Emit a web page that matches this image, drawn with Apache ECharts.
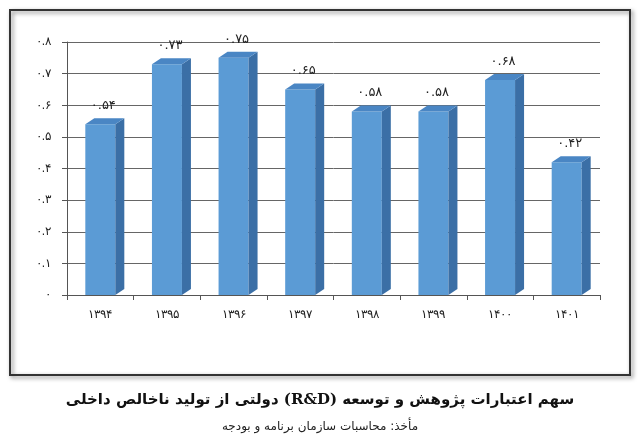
<!DOCTYPE html>
<html>
<head>
<meta charset="utf-8">
<script src="https://cdn.jsdelivr.net/npm/echarts@6/dist/echarts.min.js"></script>
<style>html,body{margin:0;background:#fff}#chart{width:640px;height:439px}</style>
</head>
<body>
<div id="chart"></div>
<script>
const years = ['1394', '1395', '1396', '1397', '1398', '1399', '1400', '1401'];
const shares = [0.54, 0.73, 0.75, 0.65, 0.58, 0.58, 0.68, 0.42];
const yTicks = [0, 0.1, 0.2, 0.3, 0.4, 0.5, 0.6, 0.7, 0.8];

const fa = s => String(s).replace(/[0-9]/g, d => '۰۱۲۳۴۵۶۷۸۹'[d]);
const faNum = v => v === 0 ? '۰' : fa(v.toFixed(2).replace(/0$/, ''));

let chart = echarts.init(document.getElementById('chart'));
const DX = 9, DY = -6, HALF = 15;

let option = {
  animation: false,
  grid: { left: 67, right: 40, top: 42, bottom: 144 },
  xAxis: {
    type: 'category', data: years,
    axisLine: { lineStyle: { color: '#555' } },
    axisTick: { show: true, lineStyle: { color: '#555' } },
    axisLabel: { color: '#222', fontSize: 12, margin: 14, formatter: v => fa(v) }
  },
  yAxis: {
    type: 'value', min: 0, max: 0.8, interval: 0.1,
    axisLine: { show: true, lineStyle: { color: '#555' } },
    axisTick: { show: true, lineStyle: { color: '#555' } },
    axisLabel: { color: '#222', fontSize: 12, margin: 16, formatter: v => faNum(yTicks[Math.round(v * 10)]) },
    splitLine: { lineStyle: { color: '#666', width: 1 } }
  },
  graphic: [
    { type: 'rect', shape: { x: 10, y: 10, width: 620, height: 365 },
      style: { fill: 'none', stroke: '#333', lineWidth: 2, shadowBlur: 4, shadowColor: 'rgba(0,0,0,0.5)', shadowOffsetX: 2, shadowOffsetY: 2 } },
    { type: 'text', left: 'center', top: 393,
      style: { text: '\u202Bسهم اعتبارات پژوهش و توسعه (R&D)\u200F دولتی از تولید ناخالص داخلی\u202C', font: 'bold 15px "DejaVu Serif", "DejaVu Sans"', fill: '#111' } },
    { type: 'text', left: 'center', top: 421,
      style: { text: '\u202Bمأخذ: محاسبات سازمان برنامه و بودجه\u202C', font: '12px "DejaVu Sans"', fill: '#222' } }
  ],
  series: [{
    type: 'custom',
    data: shares.map((v, i) => [i, v]),
    renderItem: (params, api) => {
      const top = api.coord([api.value(0), api.value(1)]);
      const base = api.coord([api.value(0), 0]);
      const x0 = top[0] - HALF, x1 = top[0] + HALF;
      return {
        type: 'group', children: [
          { type: 'rect', shape: { x: x0, y: top[1], width: x1 - x0, height: base[1] - top[1] }, style: { fill: '#5b9bd5' } },
          { type: 'polygon', shape: { points: [[x1, top[1]], [x1 + DX, top[1] + DY], [x1 + DX, base[1] + DY], [x1, base[1]]] }, style: { fill: '#3b6fa6' } },
          { type: 'polygon', shape: { points: [[x0, top[1]], [x0 + DX, top[1] + DY], [x1 + DX, top[1] + DY], [x1, top[1]]] }, style: { fill: '#4a86c4' } },
          { type: 'text', x: top[0] + 3, y: top[1] - 12,
            style: { text: faNum(api.value(1)), fill: '#222', font: '13px "DejaVu Sans"', align: 'center', verticalAlign: 'bottom' } }
        ]
      };
    }
  }]
};

option && chart.setOption(option);
</script>
</body>
</html>
